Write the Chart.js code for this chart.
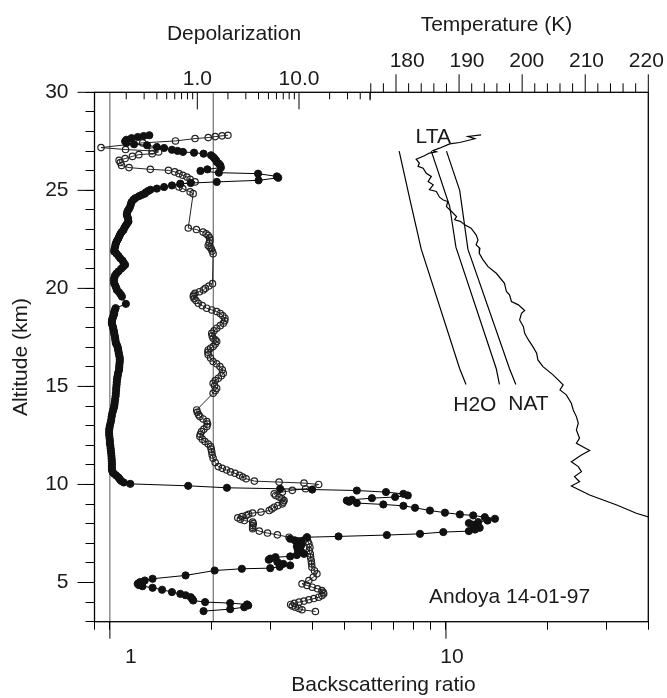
<!DOCTYPE html>
<html>
<head>
<meta charset="utf-8">
<title>Andoya 14-01-97</title>
<script src="https://cdn.jsdelivr.net/npm/chart.js@4.4.1/dist/chart.umd.min.js"></script>
<style>
  body { margin: 0; background: #fff; }
  canvas { display: block; }
</style>
</head>
<body>
<canvas id="lidarPlot" width="667" height="698"></canvas>
<script>
/* [altitude km, backscattering ratio] - filled circles */
const backscatter = [
  [27.81,1.31],[27.77,1.26],[27.72,1.21],[27.66,1.16],[27.58,1.12],[27.50,1.11],[27.42,1.12],[27.35,1.18],[27.30,1.29],[27.21,1.38],
  [27.16,1.45],[27.07,1.53],[27.01,1.59],[26.96,1.65],[26.92,1.78],[26.87,1.90],[26.79,2.00],[26.70,2.03],[26.62,2.05],[26.53,2.07],
  [26.45,2.08],[26.36,2.11],[26.28,2.13],[26.16,2.14],[26.07,1.95],[25.99,1.86],[25.90,2.11],[25.85,2.76],[25.71,3.14],[25.64,3.17],
  [25.51,2.77],[25.43,2.08],[25.37,1.74],[25.34,1.62],[25.25,1.53],[25.17,1.45],[25.09,1.38],[25.03,1.32],[24.97,1.30],[24.90,1.28],
  [24.83,1.27],[24.77,1.245],[24.70,1.22],[24.60,1.19],[24.52,1.175],[24.40,1.16],[24.30,1.155],[24.17,1.149],[24.05,1.14],[23.95,1.13],
  [23.85,1.125],[23.75,1.123],[23.65,1.128],[23.55,1.133],[23.41,1.136],[23.30,1.125],[23.20,1.115],[23.10,1.105],[22.98,1.098],[22.88,1.085],
  [22.78,1.075],[22.68,1.068],[22.56,1.061],[22.45,1.052],[22.35,1.045],[22.25,1.04],[22.13,1.037],[22.00,1.032],[21.88,1.03],[21.78,1.045],
  [21.66,1.06],[21.54,1.073],[21.42,1.09],[21.30,1.10],[21.20,1.11],[21.10,1.095],[21.00,1.08],[20.86,1.06],[20.75,1.045],[20.64,1.035],
  [20.52,1.03],[20.40,1.028],[20.26,1.03],[20.14,1.038],[20.02,1.045],[19.92,1.049],[19.80,1.065],[19.68,1.078],[19.58,1.086],[19.21,1.116],
  [18.99,1.04],[18.90,1.035],[18.80,1.03],[18.70,1.03],[18.60,1.025],[18.50,1.02],[18.40,1.015],[18.30,1.014],[18.20,1.014],[18.10,1.018],
  [18.00,1.022],[17.90,1.025],[17.80,1.028],[17.71,1.03],[17.60,1.033],[17.50,1.036],[17.40,1.038],[17.30,1.04],[17.20,1.042],[17.10,1.05],
  [17.00,1.055],[16.90,1.058],[16.80,1.06],[16.69,1.063],[16.58,1.066],[16.47,1.07],[16.37,1.07],[16.27,1.07],[16.16,1.068],[16.05,1.067],
  [15.95,1.066],[15.84,1.065],[15.73,1.06],[15.62,1.057],[15.52,1.054],[15.42,1.052],[15.33,1.05],[15.20,1.048],[15.08,1.047],[14.95,1.045],
  [14.82,1.044],[14.65,1.042],[14.50,1.04],[14.35,1.037],[14.20,1.034],[14.08,1.032],[13.97,1.03],[13.85,1.025],[13.72,1.02],[13.58,1.015],
  [13.45,1.012],[13.29,1.009],[13.15,1.005],[13.00,1.0],[12.87,0.997],[12.75,0.995],[12.61,0.995],[12.48,0.996],[12.35,0.998],[12.22,1.0],
  [12.10,1.0],[11.98,1.003],[11.85,1.005],[11.72,1.007],[11.59,1.009],[11.45,1.011],[11.32,1.012],[11.20,1.013],[11.08,1.014],[10.96,1.014],
  [10.85,1.014],[10.74,1.014],[10.62,1.02],[10.54,1.03],[10.45,1.045],[10.36,1.06],[10.27,1.07],[10.18,1.08],[10.10,1.10],[10.03,1.15],
  [9.93,1.71],[9.83,2.23],[9.78,3.21],[9.74,4.0],[9.69,5.43],[9.61,6.63],[9.52,7.47],[9.44,7.7],[9.36,7.06],[9.30,6.02],
  [9.22,5.25],[9.18,5.07],[9.12,5.15],[9.05,5.43],[8.98,6.51],[8.91,7.47],[8.81,8.09],[8.67,8.96],[8.56,9.93],[8.47,11.0],
  [8.42,12.05],[8.33,13.05],[8.25,13.99],[8.16,13.3],[8.08,12.47],[8.03,11.7],[7.95,12.0],[7.87,12.4],[7.79,12.6],[7.70,12.2],
  [7.62,11.7],[7.57,9.82],[7.48,8.37],[7.42,6.67],[7.35,4.79],[7.31,3.86],[7.23,3.44],[7.15,3.55],[7.08,3.7],[7.00,3.65],
  [6.93,3.72],[6.85,3.6],[6.77,3.68],[6.70,3.62],[6.63,3.64],[6.55,3.72],[6.46,3.78],[6.40,3.6],[6.33,3.44],[6.29,3.11],
  [6.22,3.0],[6.16,2.97],[6.05,3.15],[5.95,3.28],[5.87,3.44],[5.80,3.2],[5.73,3.0],[5.70,2.47],[5.61,2.05],[5.36,1.68],
  [5.19,1.34],[5.10,1.27],[5.02,1.23],[4.97,1.22],[4.93,1.21],[4.87,1.22],[4.81,1.25],[4.73,1.34],[4.63,1.43],[4.51,1.53],
  [4.42,1.62],[4.35,1.68],[4.25,1.74],[4.15,1.76],[4.08,1.77],[4.00,1.92],[3.95,2.28],[3.88,2.56],[3.83,2.58],[3.74,2.51],
  [3.64,2.28],[3.54,1.90]
]

/* [altitude km, depolarization] - open circles */
const depolarization = [
  [27.81,2.0],[27.78,1.75],[27.74,1.5],[27.69,1.28],[27.64,0.95],[27.52,0.61],[27.42,0.29],[27.18,0.113],[27.08,0.197],[27.01,0.359],
  [26.96,0.416],[26.87,0.36],[26.82,0.266],[26.73,0.23],[26.62,0.195],[26.53,0.17],[26.42,0.175],[26.27,0.18],[26.16,0.213],[26.07,0.345],
  [26.02,0.52],[25.94,0.60],[25.85,0.66],[25.77,0.72],[25.68,0.79],[25.56,0.85],[25.43,0.95],[25.31,0.68],[25.17,0.66],[25.09,0.72],
  [24.92,0.85],[24.83,0.91],[23.08,0.815],[23.00,0.98],[22.87,1.14],[22.78,1.22],[22.70,1.28],[22.58,1.32],[22.45,1.33],[22.32,1.31],
  [22.19,1.28],[22.10,1.33],[22.02,1.37],[21.90,1.40],[21.77,1.43],[20.24,1.41],[20.12,1.30],[20.00,1.20],[19.92,1.146],[19.83,1.05],
  [19.75,0.949],[19.66,0.92],[19.58,0.913],[19.48,0.93],[19.38,0.97],[19.24,1.023],[19.12,1.12],[18.99,1.237],[18.90,1.39],[18.82,1.55],
  [18.72,1.68],[18.60,1.78],[18.48,1.87],[18.35,1.86],[18.22,1.80],[18.10,1.68],[17.97,1.55],[17.84,1.46],[17.71,1.386],[17.58,1.40],
  [17.46,1.43],[17.38,1.50],[17.29,1.55],[17.16,1.50],[17.03,1.43],[16.95,1.35],[16.86,1.28],[16.74,1.27],[16.61,1.28],[16.45,1.35],
  [16.27,1.43],[16.15,1.55],[16.01,1.67],[15.85,1.76],[15.67,1.80],[15.55,1.72],[15.42,1.61],[15.30,1.50],[15.16,1.43],[15.03,1.48],
  [14.91,1.55],[14.78,1.50],[14.65,1.43],[13.80,0.986],[13.68,1.00],[13.56,1.03],[13.46,1.06],[13.34,1.14],[13.21,1.24],[13.08,1.26],
  [12.95,1.24],[12.82,1.16],[12.70,1.10],[12.56,1.07],[12.44,1.06],[12.31,1.12],[12.19,1.19],[12.06,1.28],[11.93,1.35],[11.80,1.37],
  [11.67,1.386],[11.50,1.40],[11.34,1.43],[11.12,1.50],[10.91,1.61],[10.82,1.76],[10.74,1.94],[10.64,2.12],[10.57,2.35],[10.47,2.60],
  [10.38,2.80],[10.29,3.02],[10.17,3.64],[10.12,6.37],[10.07,11.2],[10.00,15.6],[9.78,11.6],[9.70,8.59],[9.61,6.86],[9.52,5.70],
  [9.44,5.9],[9.36,6.37],[9.27,6.8],[9.18,7.13],[9.10,7.0],[9.01,6.86],[8.92,6.2],[8.84,5.70],[8.75,5.4],[8.67,5.09],
  [8.59,4.23],[8.54,3.50],[8.48,3.2],[8.42,3.02],[8.36,2.75],[8.30,2.50],[8.22,2.65],[8.16,2.9],[8.08,3.5],[8.00,3.55],
  [7.90,3.5],[7.82,3.5],[7.74,3.5],[7.62,4.07],[7.52,4.90],[7.43,6.13],[7.31,7.97],[7.23,11.6],[7.10,12.2],[6.97,12.5],
  [6.80,12.8],[6.63,12.6],[6.46,12.9],[6.29,13.0],[6.10,13.2],[5.95,13.3],[5.78,13.4],[5.60,14.2],[5.44,15.0],[5.27,13.8],
  [5.10,12.5],[4.93,10.7],[4.85,12.0],[4.76,13.5],[4.68,15.2],[4.59,16.8],[4.50,17.3],[4.42,17.5],[4.33,16.8],[4.25,15.6],
  [4.18,14.0],[4.12,12.5],[4.05,11.2],[4.00,10.0],[3.94,9.0],[3.88,8.28],[3.80,8.6],[3.74,9.2],[3.67,10.0],[3.61,10.7],
  [3.52,14.5]
]

/* [altitude km, temperature K] */
const lta = [
  [27.83,193.5],[27.75,191.4],[27.63,192.5],[27.44,190.1],[27.37,188.5],[27.15,186.9],[27.03,185.9],[26.97,186.4],[26.90,185.3],[26.76,184.5],
  [26.59,183.2],[26.39,183.7],[26.22,183.5],[26.13,184.3],[25.87,184.8],[25.71,185.6],[25.45,185.1],[25.28,185.9],[25.03,185.3],[24.94,186.4],
  [24.65,186.9],[24.51,187.5],[24.43,188.2],[24.17,188.0],[23.92,188.8],[23.66,189.6],[23.50,189.3],[23.42,190.2],[23.24,190.9],[23.07,191.9],
  [22.73,192.7],[22.47,193.0],[22.22,192.7],[22.05,193.3],[21.79,193.2],[21.62,193.5],[21.45,193.8],[21.11,194.6],[20.77,195.9],[20.26,197.2],
  [19.84,197.5],[19.67,198.0],[19.33,198.3],[19.16,199.4],[18.87,200.4],[18.73,199.9],[18.39,199.6],[18.05,200.2],[17.71,200.4],[17.37,201.0],
  [17.03,201.7],[16.69,202.3],[16.35,202.5],[16.01,203.3],[15.59,204.9],[15.08,206.5],[14.82,206.0],[14.57,207.0],[14.14,207.8],[13.80,208.1],
  [13.46,208.6],[13.12,208.9],[12.78,208.6],[12.36,209.1],[12.10,208.6],[11.73,210.7],[11.50,209.4],[11.16,207.8],[10.91,208.9],[10.65,209.4],
  [10.40,208.3],[10.14,209.1],[9.92,207.8],[9.46,210.7],[8.95,215.0],[8.53,218.1],[8.32,220.3]
]
const h2o = [[27.0,180.5],[24.4,182.3],[22.0,184.0],[15.9,190.1],[15.1,191.1]]
const natA = [[27.0,185.6],[24.2,188.5],[22.1,189.5],[15.9,195.9],[15.1,196.4]]
const natB = [[27.0,188.0],[25.0,190.1],[22.0,191.4],[15.9,198.0],[15.1,199.0]]

/* axes */
const altTicks = [3,4,5,6,7,8,9,10,11,12,13,14,15,16,17,18,19,20,21,22,23,24,25,26,27,28,29,30]
const altLabels = [5,10,15,20,25,30]
const backTicks = [0.9,1,2,3,4,5,6,7,8,9,10,20,30,40]
const backLabels = [1,10]
const depTicks = [0.2,0.3,0.4,0.5,0.6,0.7,0.8,0.9,1,2,3,4,5,6,7,8,9,10,20,30,40,50]
const depLabels = [1,10]
const tempTicks = [176,178,180,182,184,186,188,190,192,194,196,198,200,202,204,206,208,210,212,214,216,218,220]
const tempLabels = [180,190,200,210,220]
const refRatios = [1,2.03]

/* text placed in data coordinates (temperature, altitude) */
const notes = [
  {text: 'LTA', T: 185.9, alt: 27.41},
  {text: 'H2O', T: 192.5, alt: 13.77},
  {text: 'NAT', T: 201.0, alt: 13.82},
  {text: 'Andoya 14-01-97', T: 198.0, alt: 3.94}
]

const FONT = '"Liberation Sans", Arial, Helvetica, sans-serif'
const INK = '#1a1a1a'

const toPoints = (rows) => rows.map(([alt, v]) => ({x: v, y: alt}))

const line = (ctx, x1, y1, x2, y2) => {
  ctx.beginPath()
  ctx.moveTo(x1, y1)
  ctx.lineTo(x2, y2)
  ctx.stroke()
}

const decor = {
  id: 'decor',
  beforeDatasetsDraw(chart) {
    const {ctx, chartArea: a, scales: {x}} = chart
    ctx.save()
    ctx.strokeStyle = '#555'
    ctx.lineWidth = 1
    refRatios.forEach(v => {
      const px = x.getPixelForValue(v)
      line(ctx, px, a.top, px, a.bottom)
    })
    ctx.restore()
  },
  afterDraw(chart) {
    const {ctx, chartArea: a, scales: {x, y, xd, xT}} = chart
    ctx.save()
    ctx.strokeStyle = '#000'
    ctx.lineWidth = 1.3
    ctx.strokeRect(a.left, a.top, a.right - a.left, a.bottom - a.top)
    ctx.lineWidth = 1

    /* top: depolarization ticks point inside */
    depTicks.forEach(v => {
      const px = xd.getPixelForValue(v)
      const len = depLabels.includes(v) ? 17 : 7
      line(ctx, px, a.top, px, a.top + len)
    })
    const edge = xd.getPixelForValue(depTicks[depTicks.length - 1])
    line(ctx, edge, a.top, edge, a.top + 8)

    /* top: temperature ticks point outside */
    tempTicks.forEach(t => {
      const px = xT.getPixelForValue(t)
      line(ctx, px, a.top, px, a.top - (tempLabels.includes(t) ? 18 : 9))
    })

    /* long ticks, bottom and left */
    backLabels.forEach(v => {
      const px = x.getPixelForValue(v)
      line(ctx, px, a.bottom, px, a.bottom + 17)
    })
    altLabels.forEach(v => {
      const py = y.getPixelForValue(v)
      line(ctx, a.left - 17, py, a.left, py)
    })

    ctx.fillStyle = INK
    ctx.font = '21px ' + FONT
    ctx.textAlign = 'center'
    ctx.textBaseline = 'alphabetic'
    depLabels.forEach(v => ctx.fillText(v.toFixed(1), xd.getPixelForValue(v), 85))
    tempLabels.forEach(t => ctx.fillText(String(t), xT.getPixelForValue(t) + (220 - t) * 0.33 - 2, 66.5))
    const backShift = [21, 6]
    backLabels.forEach((v, i) => ctx.fillText(String(v), x.getPixelForValue(v) + backShift[i], 663))

    ctx.fillText('Depolarization', 234, 39.5)
    ctx.fillText('Temperature (K)', 496.5, 31)
    ctx.fillText('Backscattering ratio', 383.5, 691)

    notes.forEach(n => ctx.fillText(n.text, xT.getPixelForValue(n.T), y.getPixelForValue(n.alt)))
    ctx.restore()
  }
}

const ctx = document.getElementById('lidarPlot').getContext('2d')
new Chart(ctx, {
  type: 'scatter',
  data: {
    datasets: [{
      label: 'Backscattering ratio',
      data: toPoints(backscatter),
      xAxisID: 'x',
      showLine: true,
      borderColor: '#000',
      borderWidth: 1,
      pointRadius: 3.6,
      pointBackgroundColor: '#111',
      pointBorderColor: '#111',
      pointBorderWidth: 1,
      clip: 0
    }, {
      label: 'Depolarization',
      data: toPoints(depolarization),
      xAxisID: 'xd',
      showLine: true,
      borderColor: '#222',
      borderWidth: 1,
      pointRadius: 3.2,
      pointBackgroundColor: 'rgba(255,255,255,0)',
      pointBorderColor: '#222',
      pointBorderWidth: 1.2,
      clip: 0
    }, {
      label: 'LTA',
      data: toPoints(lta),
      xAxisID: 'xT',
      showLine: true,
      pointRadius: 0,
      borderColor: '#000',
      borderWidth: 1.2,
      clip: 0
    }, {
      label: 'H2O',
      data: toPoints(h2o),
      xAxisID: 'xT',
      showLine: true,
      pointRadius: 0,
      borderColor: '#000',
      borderWidth: 1.2,
      clip: 0
    }, {
      label: 'NAT',
      data: toPoints(natA),
      xAxisID: 'xT',
      showLine: true,
      pointRadius: 0,
      borderColor: '#000',
      borderWidth: 1.2,
      clip: 0
    }, {
      label: 'NAT',
      data: toPoints(natB),
      xAxisID: 'xT',
      showLine: true,
      pointRadius: 0,
      borderColor: '#000',
      borderWidth: 1.2,
      clip: 0
    }]
  },
  options: {
    responsive: false,
    animation: false,
    events: [],
    layout: { padding: { top: 92.3, right: 18.7, left: 0, bottom: 0 } },
    plugins: { legend: { display: false }, tooltip: { enabled: false } },
    scales: {
      x: {
        type: 'logarithmic',
        position: 'bottom',
        min: 0.9,
        max: 40,
        afterBuildTicks: (s) => { s.ticks = backTicks.map(v => ({value: v})) },
        afterFit: (s) => { s.height = 76.3 },
        ticks: { display: false, autoSkip: false },
        grid: { drawOnChartArea: false, color: '#000', tickLength: 8 },
        border: { display: false }
      },
      y: {
        type: 'linear',
        position: 'left',
        min: 3,
        max: 30,
        afterBuildTicks: (s) => { s.ticks = altTicks.map(v => ({value: v})) },
        afterFit: (s) => { s.width = 94.5 },
        ticks: {
          autoSkip: false,
          padding: 17,
          color: INK,
          font: { family: FONT, size: 21 },
          callback: (v) => altLabels.includes(v) ? String(v) : ''
        },
        grid: { drawOnChartArea: false, color: '#000', tickLength: 9 },
        border: { display: false },
        title: {
          display: true,
          text: 'Altitude (km)',
          color: INK,
          font: { family: FONT, size: 21 },
          padding: { top: 9, bottom: 0 }
        }
      },
      /* top scale: depolarization (log) on the left half, temperature on the right */
      xd: { type: 'logarithmic', axis: 'x', position: 'top', display: false, min: 0.0975, max: 27200 },
      xT: { type: 'linear', axis: 'x', position: 'top', display: false, min: 132.2, max: 220 }
    }
  },
  plugins: [decor]
})
</script>
</body>
</html>
